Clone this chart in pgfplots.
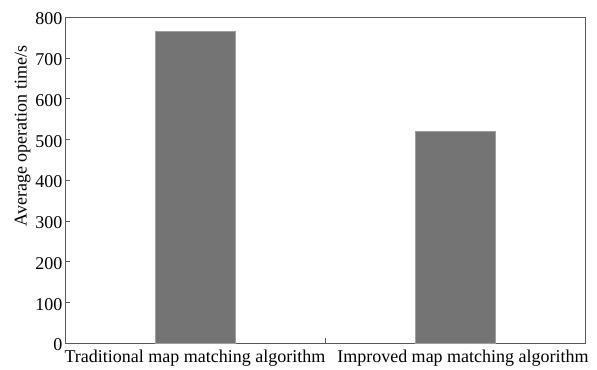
\documentclass[border=0pt]{standalone}
\usepackage{pgfplots}
\pgfplotsset{compat=1.18}
\usepackage{fontspec}
\setmainfont{Liberation Serif}
\definecolor{barfill}{HTML}{747474}
\definecolor{axisgray}{HTML}{5A5A5A}
\begin{document}
\begin{tikzpicture}
\begin{axis}[
  scale only axis,
  width=520pt, height=326pt,
  xmin=0.5, xmax=2.5,
  ymin=0, ymax=800,
  ytick={0,100,...,800},
  xtick={1.5},
  xticklabels={},
  extra x ticks={1,2},
  extra x tick labels={Traditional map matching algorithm, \hspace{16pt}Improved map matching algorithm},
  extra x tick style={major tick length=0pt, xticklabel style={yshift=-3pt}},
  x tick style={axisgray},
  y tick style={axisgray},
  major tick length=5pt,
  tick align=inside,
  xtick pos=bottom, ytick pos=left,
  axis line style={axisgray, line width=0.9pt},
  font=\fontsize{18}{21}\selectfont,
  tick label style={font=\fontsize{18}{21}\selectfont},
  /pgf/number format/assume math mode=true,
  yticklabel style={xshift=1pt, yshift=-2pt},
  ylabel={Average operation time/s},
  ylabel style={at={(ticklabel cs:0.635)}, yshift=-2pt},
]
\addplot[ybar, bar width=80pt, fill=barfill, draw=barfill!70!white, line width=0.4pt] coordinates {(1,765) (2,520)};
\end{axis}
\path (current axis.south west) ++(-65pt,-26pt) rectangle ++(597pt,369pt);
\end{tikzpicture}
\end{document}
